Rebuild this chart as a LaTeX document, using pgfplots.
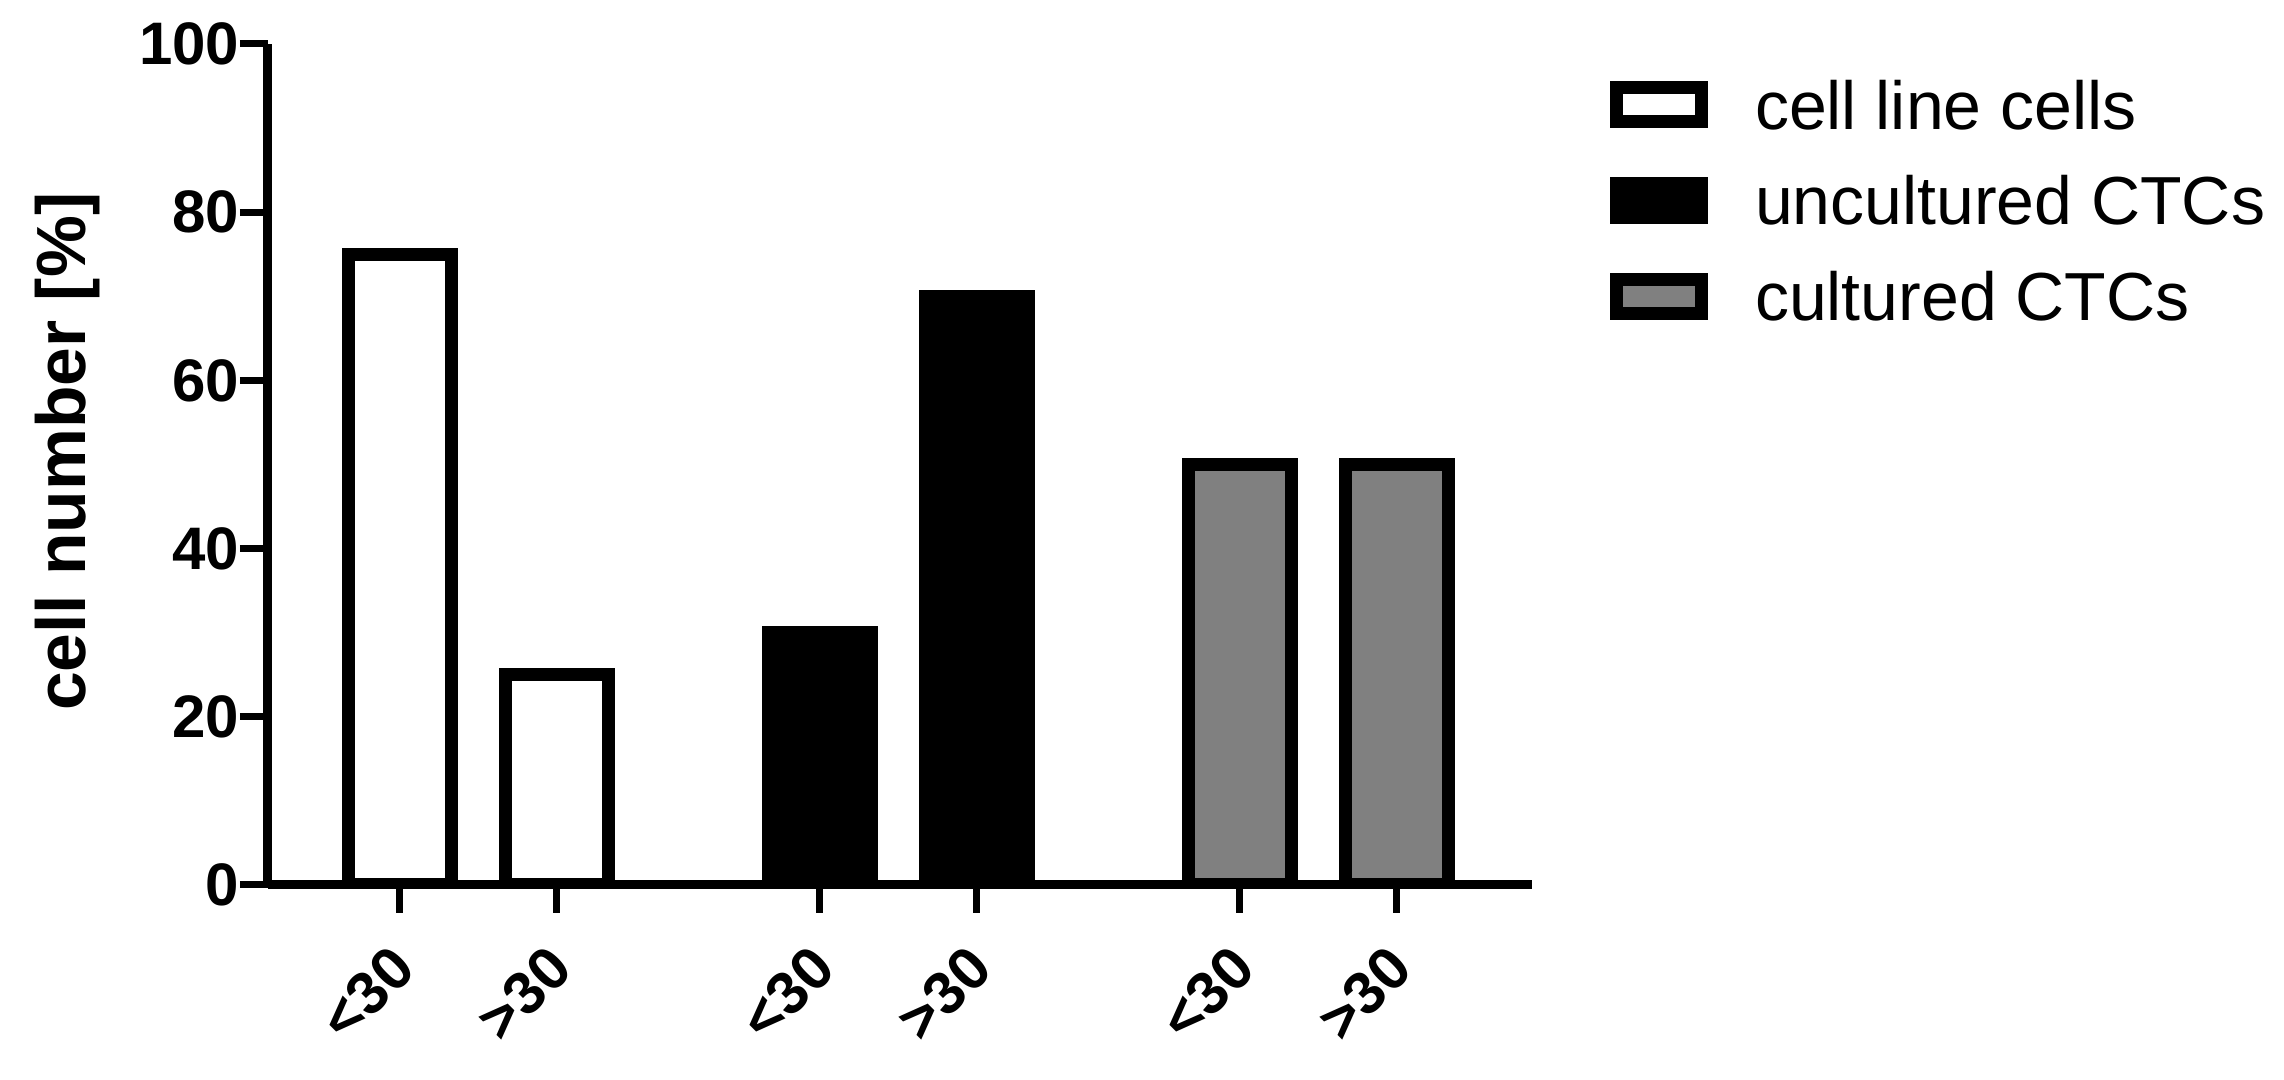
\documentclass[border=0pt]{standalone}
\usepackage{pgfplots}
\pgfplotsset{compat=1.18}
\usepackage{fontspec}
\setmainfont{Liberation Sans}
\definecolor{midgray}{HTML}{808080}
\pgfplotsset{
  mybar/.style={ybar, bar width=0.656, bar shift=0pt, draw=black, line width=3.25pt, line join=miter,
    legend image code/.code={\draw[##1, line width=3.25pt, line join=miter] (0pt,-2.9pt) rectangle (21.25pt,5.6pt);}}
}
\begin{document}
\begin{tikzpicture}
\useasboundingbox (-67pt,-48.75pt) rectangle (504pt,221.25pt);
\begin{axis}[
  at={(0,0)}, anchor=south west,
  scale only axis, width=316pt, height=210.25pt,
  xmin=-0.84, xmax=7.21, ymin=0, ymax=100,
  axis x line*=bottom, axis y line*=left,
  axis line style={line width=2.25pt, black},
  xtick={0,1,2.675,3.675,5.35,6.35},
  xticklabels={<30,>30,<30,>30,<30,>30},
  ytick={0,20,40,60,80,100},
  minor tick num=0,
  tick align=outside, major tick length=7pt,
  tick style={line width=1.75pt, black},
  /pgf/number format/assume math mode=true,
  tick label style={font=\fontsize{15}{18}\selectfont\bfseries},
  yticklabel style={anchor=east, inner sep=0pt},
  xticklabel style={yshift=-11pt, xshift=1pt, rotate=45, anchor=east, inner sep=0pt},
  ylabel={cell number [\%]},
  every axis y label/.style={at={(axis description cs:-0.159,0.515)}, rotate=90, anchor=center, font=\fontsize{17.4}{20}\selectfont\bfseries},
  legend style={draw=none, fill=none, inner sep=0pt, outer sep=0pt, anchor=north west,
    at={(rel axis cs:1.0617,0.958)},
    font=\fontsize{17}{20}\selectfont,
    row sep=8.4pt,
    nodes={inner sep=0pt, text height=12.5pt, text depth=3pt},
    /tikz/every odd column/.append style={column sep=11.75pt}},
  legend cell align=left,
]
\addplot[mybar, fill=white] coordinates {(0,75) (1,25)};
\addlegendentry{cell line cells}
\addplot[mybar, fill=black] coordinates {(2.675,30) (3.675,70)};
\addlegendentry{uncultured CTCs}
\addplot[mybar, fill=midgray] coordinates {(5.35,50) (6.35,50)};
\addlegendentry{cultured CTCs}
\end{axis}
\end{tikzpicture}
\end{document}
